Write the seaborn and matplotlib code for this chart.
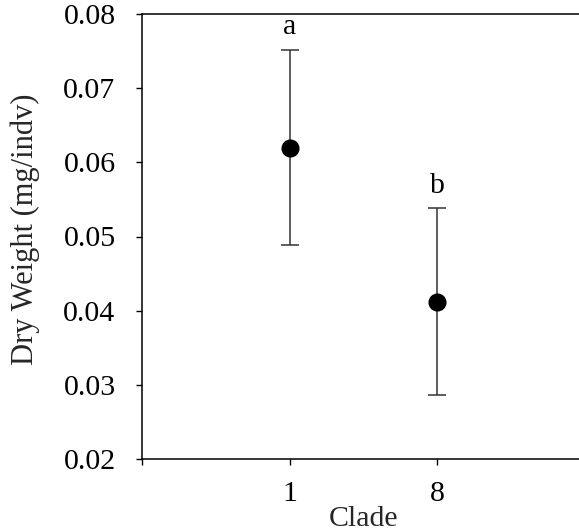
import matplotlib
matplotlib.use("Agg")
import matplotlib.pyplot as plt
import seaborn as sns
import pandas as pd

clades = ["1", "8"]
mean_weight = [0.0620, 0.0412]
se_weight = [0.0132, 0.0126]
group_letters = ["a", "b"]
y_ticks = [0.02, 0.03, 0.04, 0.05, 0.06, 0.07, 0.08]

sns.set_theme(style="ticks")
plt.rcParams["font.family"] = ["Liberation Serif", "DejaVu Serif"]
plt.rcParams["text.color"] = "black"

df = pd.DataFrame({"Clade": clades, "weight": mean_weight})

fig = plt.figure(figsize=(5.79, 5.32), dpi=100)
ax = fig.add_axes([142 / 579, 1 - 459 / 532, 442.5 / 579, 445 / 532])

pos = list(range(len(clades)))
ax.errorbar(pos, mean_weight, yerr=se_weight, fmt="none", ecolor="#333333",
            elinewidth=1.1, capsize=6.5, capthick=1.1, zorder=2)
sns.pointplot(data=df, x="Clade", y="weight", linestyle="none", color="black",
              markers="o", markersize=11, errorbar=None, ax=ax, zorder=3)

for p, m, s, lab in zip(pos, mean_weight, se_weight, group_letters):
    ax.text(p, m + s + 0.0013, lab, ha="center", va="bottom", fontsize=21.5)

ax.set_xlim(-1, 2)
ax.set_xticks([-1] + pos)
ax.set_xticklabels([""] + clades)
ax.set_ylim(0.02, 0.08)
ax.set_yticks(y_ticks)
ax.set_yticklabels([f"{v:.2f}" for v in y_ticks])

ax.tick_params(axis="both", direction="out", length=4, width=1, colors="black",
               labelsize=21.5)
ax.tick_params(axis="y", pad=15)
ax.tick_params(axis="x", pad=12)

ax.set_xlabel("Clade", fontsize=21.5, labelpad=-1)
ax.set_ylabel("Dry Weight (mg/indv)", fontsize=22)
ax.yaxis.set_label_coords(-0.2305, 0.516)

for side in ["left", "top", "bottom"]:
    ax.spines[side].set_color("black")
    ax.spines[side].set_linewidth(1.1)
ax.spines["right"].set_visible(False)

fig.savefig("out.png", dpi=100)
